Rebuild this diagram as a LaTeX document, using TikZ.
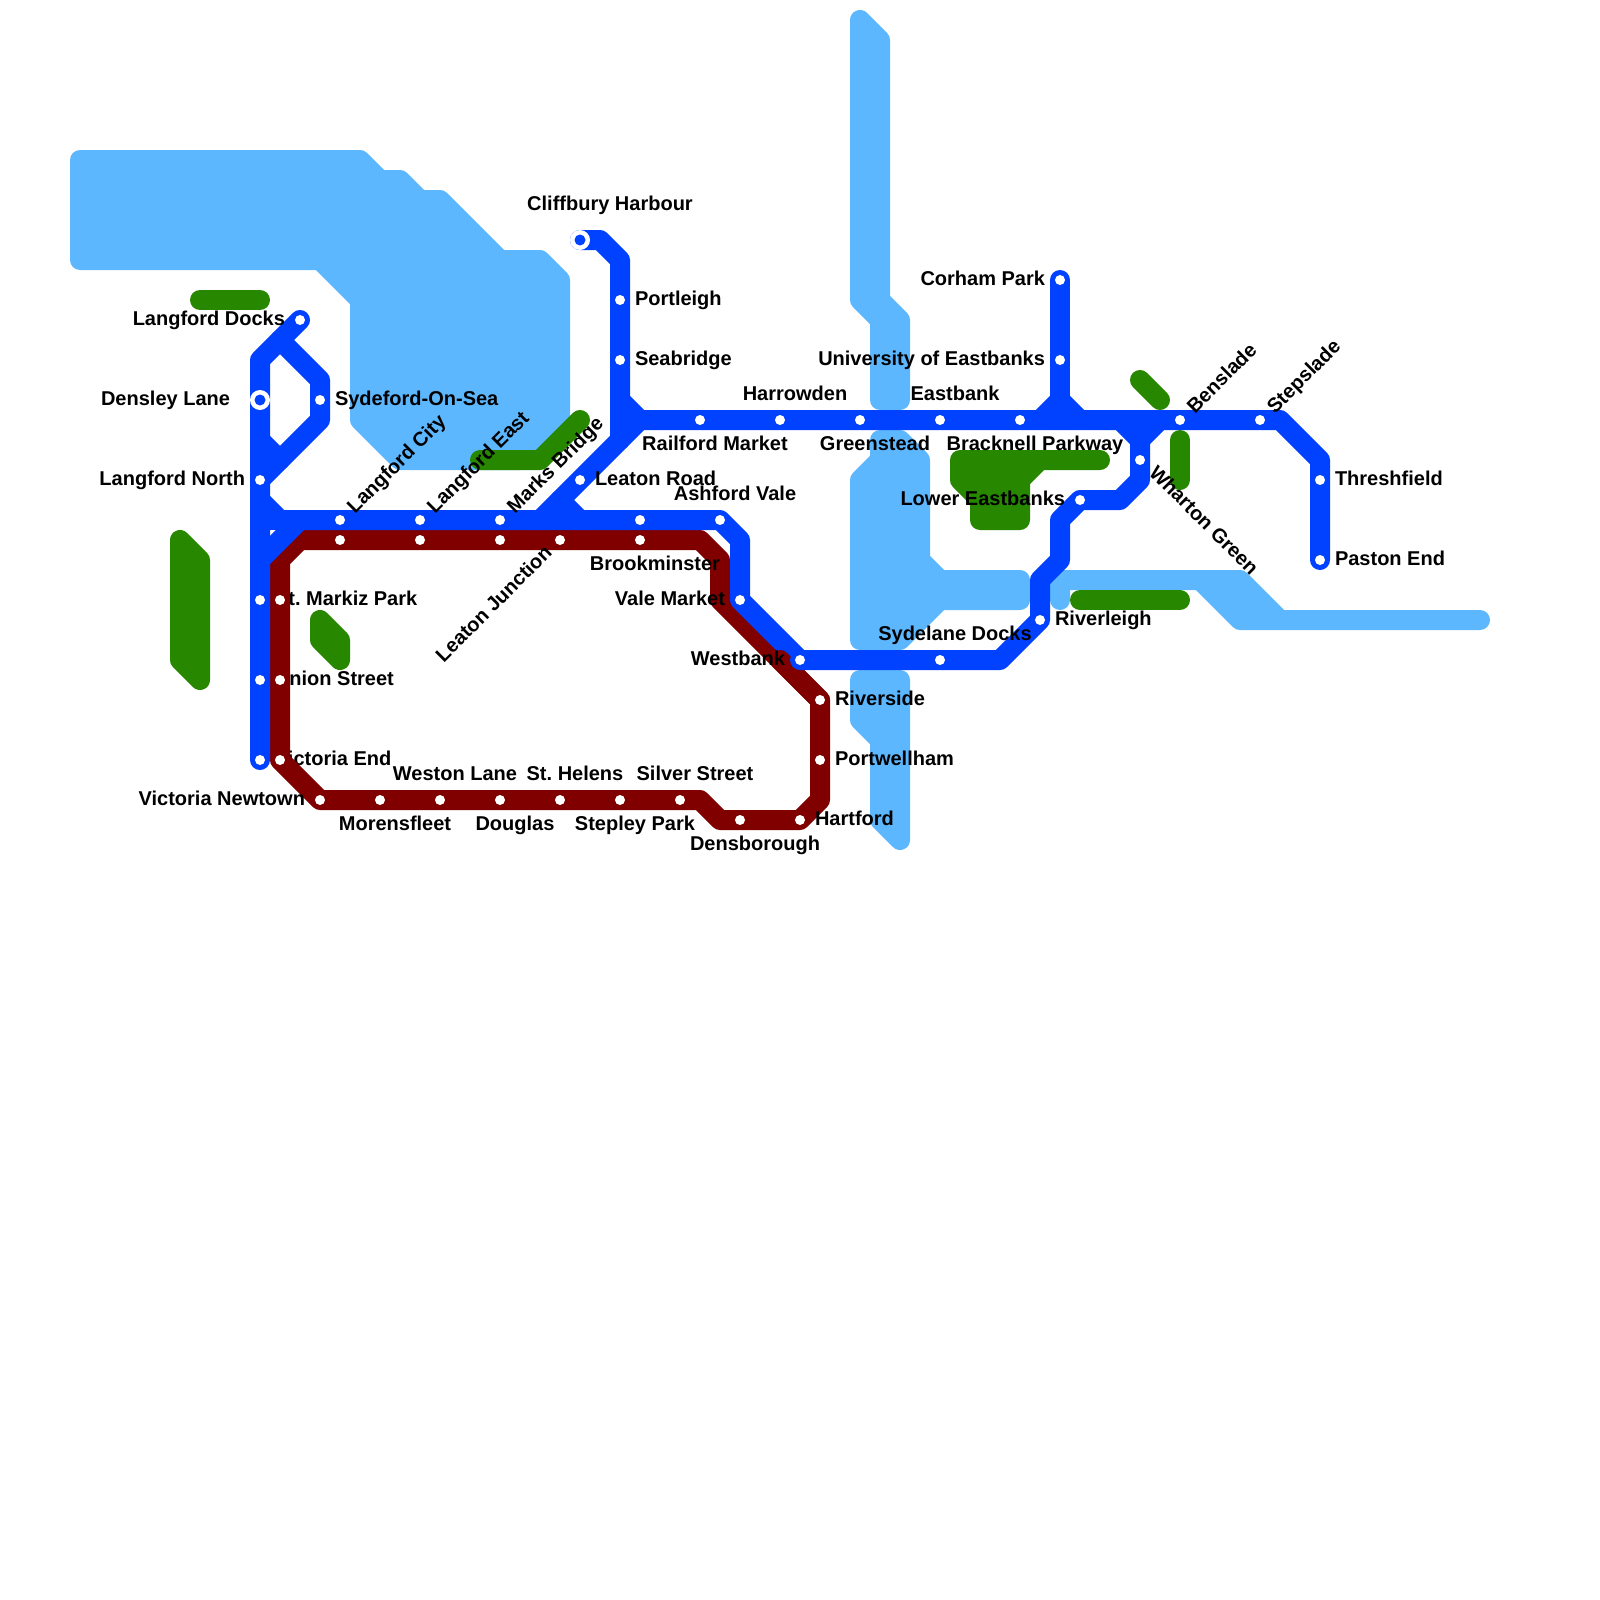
\documentclass[tikz,border=0pt]{standalone}
\usepackage{fontspec}
\setmainfont{Liberation Sans}
\definecolor{lineblue}{HTML}{0042FF}
\definecolor{linered}{HTML}{800000}
\definecolor{water}{HTML}{5DB7FF}
\definecolor{park}{HTML}{278800}
\tikzset{
  waterarea/.style={fill=water,draw=water,line width=20pt,line join=round,line cap=round},
  parkarea/.style={fill=park,draw=park,line width=20pt,line join=round,line cap=round},
  parkline/.style={draw=park,line width=20pt,line join=round,line cap=round},
  blueline/.style={draw=lineblue,line width=20pt,line join=round,line cap=round},
  redline/.style={draw=linered,line width=20pt,line join=round,line cap=round},
  stop/.style={circle,fill=white,minimum size=10pt,inner sep=0pt},
  ringout/.style={circle,fill=white,minimum size=20pt,inner sep=0pt},
  ringin/.style={circle,fill=lineblue,minimum size=11pt,inner sep=0pt},
  lab/.style={inner sep=0pt,outer sep=0pt,font=\fontsize{20pt}{24pt}\selectfont\bfseries\frenchspacing,text=black},
  lbleft/.style={lab,anchor=base east,xshift=-15pt,yshift=-5pt},
  lbright/.style={lab,anchor=base west,xshift=15pt,yshift=-5pt},
  lbabove/.style={lab,anchor=base,xshift=15pt,yshift=20pt},
  lbbelow/.style={lab,anchor=base,xshift=15pt,yshift=-30pt},
  lbup/.style={lab,anchor=base west,xshift=15pt,yshift=5.5pt,rotate=45},
  lbdown/.style={lab,anchor=base east,xshift=-7pt,yshift=-14pt,rotate=45},
  lbfall/.style={lab,anchor=base west,xshift=8pt,yshift=-14pt,rotate=-45}
}
\begin{document}
\begin{tikzpicture}[x=1pt,y=-1pt]
\useasboundingbox (0,0) rectangle (1600,1600);
% stations, blue
\coordinate (LDo) at (300,320);
\coordinate (DL) at (260,400);
\coordinate (LN) at (260,480);
\coordinate (SM) at (260,600);
\coordinate (US) at (260,680);
\coordinate (VE) at (260,760);
\coordinate (SoS) at (320,400);
\coordinate (LC) at (340,520);
\coordinate (LE) at (420,520);
\coordinate (MB) at (500,520);
\coordinate (BMb) at (640,520);
\coordinate (AV) at (720,520);
\coordinate (VM) at (740,600);
\coordinate (WB) at (800,660);
\coordinate (SD) at (940,660);
\coordinate (RL) at (1040,620);
\coordinate (LEb) at (1080,500);
\coordinate (WG) at (1140,460);
\coordinate (CH) at (580,240);
\coordinate (PL) at (620,300);
\coordinate (SB) at (620,360);
\coordinate (LR) at (580,480);
\coordinate (RM) at (700,420);
\coordinate (HW) at (780,420);
\coordinate (GS) at (860,420);
\coordinate (EB) at (940,420);
\coordinate (BP) at (1020,420);
\coordinate (BS) at (1180,420);
\coordinate (ST) at (1260,420);
\coordinate (TF) at (1320,480);
\coordinate (PE) at (1320,560);
\coordinate (CP) at (1060,280);
\coordinate (UE) at (1060,360);
% stations, red
\coordinate (RA) at (340,540);
\coordinate (RB) at (420,540);
\coordinate (RC) at (500,540);
\coordinate (LJ) at (560,540);
\coordinate (BM) at (640,540);
\coordinate (RD) at (280,600);
\coordinate (RE) at (280,680);
\coordinate (RF) at (280,760);
\coordinate (VN) at (320,800);
\coordinate (MF) at (380,800);
\coordinate (WL) at (440,800);
\coordinate (DG) at (500,800);
\coordinate (SH) at (560,800);
\coordinate (SP) at (620,800);
\coordinate (SS) at (680,800);
\coordinate (DB) at (740,820);
\coordinate (HF) at (800,820);
\coordinate (RS) at (820,700);
\coordinate (PW) at (820,760);
% water
\path[waterarea] (80,160)--(360,160)--(380,180)--(400,180)--(420,200)--(440,200)--(500,260)--(540,260)--(560,280)--(560,420)--(520,460)--(400,460)--(360,420)--(360,300)--(320,260)--(80,260)--cycle;
\path[waterarea] (860,20)--(880,40)--(880,300)--(900,320)--(900,400)--(880,400)--(880,320)--(860,300)--cycle;
\path[waterarea] (880,440)--(900,440)--(920,460)--(920,560)--(940,580)--(1020,580)--(1020,600)--(940,600)--(900,640)--(860,640)--(860,480)--(880,460)--cycle;
\path[waterarea] (860,680)--(900,680)--(900,840)--(880,820)--(880,740)--(860,720)--cycle;
\path[waterarea] (1060,600)--(1060,580)--(1240,580)--(1280,620)--(1480,620)--(1240,620)--(1200,580)--(1060,580)--cycle;
% parks
\path[parkline] (200,300)--(260,300);
\path[parkarea] (180,540)--(200,560)--(200,680)--(180,660)--cycle;
\path[parkarea] (320,620)--(340,640)--(340,660)--(320,640)--cycle;
\path[parkline] (480,460)--(540,460)--(580,420);
\path[parkarea] (960,460)--(1100,460)--(1040,460)--(1020,480)--(1020,520)--(980,520)--(980,500)--(960,480)--cycle;
\path[parkline] (1080,600)--(1180,600);
\path[parkline] (1180,440)--(1180,480);
\path[parkline] (1140,380)--(1160,400);
% labels that lie under the red line
\node[lbright] (tSM) at (SM) {St. Markiz Park};
\node[lbright] (tUS) at (US) {Union Street};
\node[lbright] (tVE) at (VE) {Victoria End};
% red line
\path[redline] (BM)--(700,540)--(720,560)--(720,600)--(780,660)--(RS)--(PW)--(820,800)--(HF)--(DB)--(720,820)--(700,800)--(SS)--(SP)--(SH)--(DG)--(WL)--(MF)--(VN)--(RF)--(RE)--(RD)--(280,560)--(300,540)--(RA)--(RB)--(RC)--(LJ)--cycle;
% blue line
\path[blueline] (CH)--(600,240)--(620,260)--(PL)--(SB)--(620,400)--(640,420)--(RM)--(HW)--(GS)--(EB)--(BP)--(BS)--(ST)--(1280,420)--(1320,460)--(TF)--(PE);
\path[blueline] (620,400)--(620,440)--(LR)--(540,520);
\path[blueline] (640,420)--(620,440);
\path[blueline] (560,500)--(580,520);
\path[blueline] (LDo)--(260,360)--(DL)--(LN)--(SM)--(US)--(VE);
\path[blueline] (280,340)--(320,380)--(SoS)--(320,420)--(LN);
\path[blueline] (260,440)--(280,460);
\path[blueline] (260,500)--(280,520)--(LC)--(LE)--(MB)--(BMb)--(AV)--(740,540)--(VM)--(WB);
\path[blueline] (260,560)--(300,520);
\path[blueline] (260,520)--(300,520);
\path[blueline] (CP)--(UE)--(1060,400);
\path[blueline] (1040,420)--(1060,400)--(1080,420);
\path[blueline] (1140,440)--(1160,420);
% red passes over blue at Westbank
\path[redline] (780,660)--(RS);
\path[blueline] (WB)--(SD)--(1000,660)--(RL)--(1040,580)--(1060,560)--(1060,520)--(LEb)--(1120,500)--(1140,480)--(WG)--(1140,440)--(1120,420);
% labels
\node[lbleft] (tLDo) at (LDo) {Langford Docks};
\node[lbleft,xshift=-15pt] (tDL) at (DL) {Densley Lane};
\node[lbleft] (tLN) at (LN) {Langford North};
\node[lbleft] (tCP) at (CP) {Corham Park};
\node[lbleft] (tUE) at (UE) {University of Eastbanks};
\node[lbleft] (tLEb) at (LEb) {Lower Eastbanks};
\node[lbleft] (tVM) at (VM) {Vale Market};
\node[lbleft] (tWB) at (WB) {Westbank};
\node[lbleft] (tVN) at (VN) {Victoria Newtown};
\node[lbright] (tSoS) at (SoS) {Sydeford-On-Sea};
\node[lbright] (tPL) at (PL) {Portleigh};
\node[lbright] (tSB) at (SB) {Seabridge};
\node[lbright] (tLR) at (LR) {Leaton Road};
\node[lbright] (tRS) at (RS) {Riverside};
\node[lbright] (tPW) at (PW) {Portwellham};
\node[lbright] (tHF) at (HF) {Hartford};
\node[lbright] (tTF) at (TF) {Threshfield};
\node[lbright] (tPE) at (PE) {Paston End};
\node[lbright] (tRL) at (RL) {Riverleigh};
\node[lbabove,xshift=15pt,yshift=10pt] (tCH) at (CH) {Cliffbury Harbour};
\node[lbabove] (tHW) at (HW) {Harrowden};
\node[lbabove] (tEB) at (EB) {Eastbank};
\node[lbabove] (tAV) at (AV) {Ashford Vale};
\node[lbabove] (tSD) at (SD) {Sydelane Docks};
\node[lbabove] (tWL) at (WL) {Weston Lane};
\node[lbabove] (tSH) at (SH) {St. Helens};
\node[lbabove] (tSS) at (SS) {Silver Street};
\node[lbbelow] (tRM) at (RM) {Railford Market};
\node[lbbelow] (tGS) at (GS) {Greenstead};
\node[lbbelow] (tBP) at (BP) {Bracknell Parkway};
\node[lbbelow] (tBM) at (BM) {Brookminster};
\node[lbbelow] (tMF) at (MF) {Morensfleet};
\node[lbbelow] (tDG) at (DG) {Douglas};
\node[lbbelow] (tSP) at (SP) {Stepley Park};
\node[lbbelow] (tDB) at (DB) {Densborough};
\node[lbup] (tLC) at (LC) {Langford City};
\node[lbup] (tLE) at (LE) {Langford East};
\node[lbup] (tMB) at (MB) {Marks Bridge};
\node[lbup] (tBS) at (BS) {Benslade};
\node[lbup] (tST) at (ST) {Stepslade};
\node[lbdown] (tLJ) at (LJ) {Leaton Junction};
\node[lbfall] (tWG) at (WG) {Wharton Green};
% station dots
\foreach \s in {LDo,LN,SM,US,VE,SoS,LC,LE,MB,BMb,AV,VM,WB,SD,RL,LEb,WG,PL,SB,LR,RM,HW,GS,EB,BP,BS,ST,TF,PE,CP,UE,RA,RB,RC,LJ,BM,RD,RE,RF,VN,MF,WL,DG,SH,SP,SS,DB,HF,RS,PW}
  \node[stop] (d\s) at (\s) {};
\node[ringout] (oDL) at (DL) {};
\node[ringin] (iDL) at (DL) {};
\node[ringout] (oCH) at (CH) {};
\node[ringin] (iCH) at (CH) {};
\end{tikzpicture}
\end{document}
